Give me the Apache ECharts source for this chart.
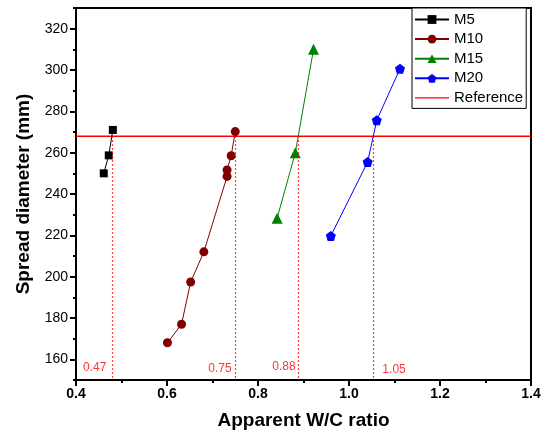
<!DOCTYPE html>
<html><head><meta charset="utf-8">
<script src="https://cdn.jsdelivr.net/npm/echarts@6/dist/echarts.min.js"></script>
<style>html,body{margin:0;padding:0;background:#fff}#c{width:545px;height:443px}</style>
</head><body><div id="c"></div>
<script>
// ---- data ----
const m5X = [0.461, 0.472, 0.481];
const m5Y = [250, 258.7, 271];
const m10X = [0.601, 0.632, 0.652, 0.681, 0.732, 0.732, 0.741, 0.750];
const m10Y = [168, 177, 197.4, 212, 248.5, 251.6, 258.5, 270.2];
const m15X = [0.842, 0.882, 0.922];
const m15Y = [228.3, 259.9, 310];
const m20X = [0.960, 1.041, 1.061, 1.112];
const m20Y = [219.7, 255.5, 275.7, 300.6];
const refValue = 268;
const crossX = [0.480, 0.750, 0.889, 1.054];
const crossText = ['0.47', '0.75', '0.88', '1.05'];
const crossTextX = [0.441, 0.7165, 0.857, 1.099];
const crossTextY = [156, 155.3, 156.3, 155.1];
const xMin = 0.4, xMax = 1.4, xStep = 0.2;
const yMin = 150, yMax = 330;
const yTicks = [160, 180, 200, 220, 240, 260, 280, 300, 320];
const seriesNames = ['M5', 'M10', 'M15', 'M20', 'Reference'];

const FONT = 'Arial, "Liberation Sans", sans-serif';
const pair = (xs, ys) => xs.map((x, i) => [x, ys[i]]);
const pentagon = 'path://M0,-1 L0.951,-0.309 L0.588,0.809 L-0.588,0.809 L-0.951,-0.309 Z';

const chart = echarts.init(document.getElementById('c'), null, {renderer: 'canvas'});
const lineSeries = (name, data, color, symbol, size) => ({
  name, type: 'line', data, symbol, symbolSize: size,
  lineStyle: {color, width: 1}, itemStyle: {color}, z: 3,
  emphasis: {disabled: true}, animation: false
});

chart.setOption({
  animation: false,
  grid: {left: 76, right: 14, top: 8, bottom: 63, show: true, borderColor: '#000', borderWidth: 2, backgroundColor: 'transparent'},
  legend: {
    orient: 'vertical', left: 412, top: 8,
    padding: [4, 3, 3, 2],
    itemWidth: 34, itemHeight: 11, itemGap: 4.6,
    backgroundColor: '#fff', borderColor: '#000', borderWidth: 1, borderRadius: 0,
    textStyle: {fontFamily: FONT, fontSize: 15, color: '#000', lineHeight: 15},
    data: ['M5', 'M10', 'M15', 'M20', {name: 'Reference', icon: 'path://M0,0H34V1.4H0Z'}]
  },
  xAxis: {
    type: 'value', min: xMin, max: xMax, interval: xStep,
    name: 'Apparent W/C ratio', nameLocation: 'middle', nameGap: 31,
    nameTextStyle: {fontFamily: FONT, fontSize: 19, fontWeight: 'bold', color: '#000'},
    axisLine: {show: true, lineStyle: {color: '#000', width: 2}},
    axisTick: {show: true, inside: false, length: 6, lineStyle: {color: '#000', width: 2}},
    minorTick: {show: true, splitNumber: 2, length: 3, lineStyle: {color: '#000', width: 2}},
    splitLine: {show: false},
    axisLabel: {fontFamily: FONT, fontSize: 14, fontWeight: 'bold', color: '#000', margin: 7,
      formatter: v => v.toFixed(1)}
  },
  yAxis: [{
    type: 'value', min: yMin, max: yMax, interval: 10, position: 'left',
    name: 'Spread diameter (mm)', nameLocation: 'middle', nameGap: 40,
    nameTextStyle: {fontFamily: FONT, fontSize: 19, fontWeight: 'bold', color: '#000'},
    axisLine: {show: true, lineStyle: {color: '#000', width: 2}},
    axisTick: {show: true, length: 6, customValues: yTicks, lineStyle: {color: '#000', width: 2}},
    splitLine: {show: false},
    axisLabel: {fontFamily: FONT, fontSize: 14, color: '#000', margin: 8, customValues: yTicks}
  }, {
    type: 'value', min: yMin, max: yMax, interval: 10, position: 'left', offset: 0,
    axisLine: {show: false}, axisLabel: {show: false}, splitLine: {show: false},
    axisTick: {show: true, length: 3, lineStyle: {color: '#000', width: 2}}
  }],
  series: [
    lineSeries('M5', pair(m5X, m5Y), '#000000', 'rect', 8),
    lineSeries('M10', pair(m10X, m10Y), '#800000', 'circle', 9),
    lineSeries('M15', pair(m15X, m15Y), '#008000', 'triangle', 11),
    lineSeries('M20', pair(m20X, m20Y), '#0000ff', pentagon, 10),
    {
      name: 'Reference', type: 'line', symbol: 'none', z: 2,
      data: [[xMin, refValue], [xMax, refValue]],
      lineStyle: {color: '#ff0000', width: 1.5}, itemStyle: {color: '#ff0000'},
      emphasis: {disabled: true},
      markLine: {
        silent: true, symbol: ['none', 'none'], animation: false,
        label: {show: false},
        lineStyle: {color: '#ff0000', width: 1.2, type: [1.5, 2.5]},
        data: crossX.map(x => [{coord: [x, refValue]}, {coord: [x, yMin]}])
      }
    },
    {
      name: 'annot', type: 'scatter', symbolSize: 0, silent: true, z: 4,
      data: crossTextX.map((x, i) => ({value: [x, crossTextY[i]], name: crossText[i]})),
      label: {show: true, position: 'inside', formatter: p => p.name,
        fontFamily: FONT, fontSize: 12, color: '#ff0000'}
    }
  ]
});
</script></body></html>
